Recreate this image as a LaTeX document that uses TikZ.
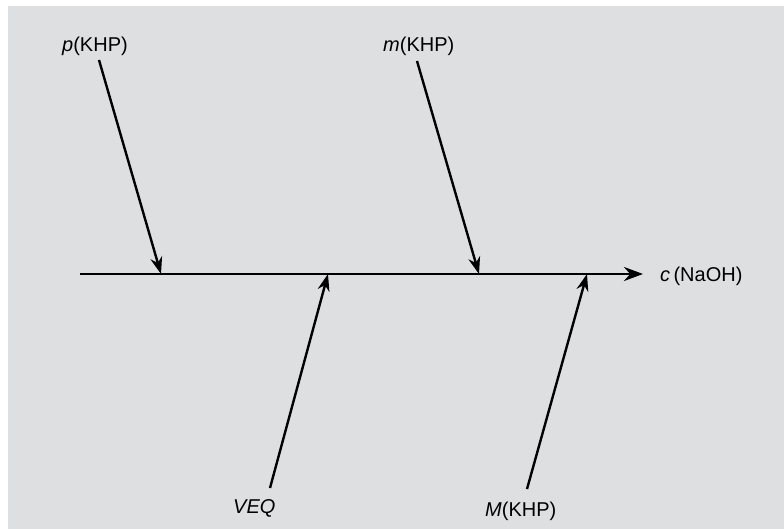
\documentclass[tikz,border=0pt]{standalone}
\usepackage{fontspec}
\setmainfont{Liberation Sans}
\usetikzlibrary{arrows.meta}

\definecolor{panelgray}{HTML}{DEDFE1}

\begin{document}
\begin{tikzpicture}[x=1pt,y=-1pt,
  every node/.style={inner sep=0pt,anchor=base west,font=\fontsize{20}{24}\selectfont},
  cause/.style={line width=2.4pt,-{Stealth[length=17pt,width=12pt]}},
  effect/.style={line width=2.8pt,-{Stealth[length=19pt,width=14pt]}}]
\fill[white] (0,0) rectangle (784,529);
\fill[panelgray] (8,6) rectangle (784,529);
\useasboundingbox (0,0) rectangle (784,529);

% labels
\node (pK) at (62,52) {\textit{p}(KHP)};
\node (mK) at (383,52) {\textit{m}(KHP)};
\node (veq) at (233,513) {\textit{VEQ}};
\node (MK) at (485,516) {\textit{M}(KHP)};
\node (cN) at (660,282) {\textit{c}\,(NaOH)};

% main line
\coordinate (start) at (80,274);
\coordinate (end) at (643,274);
\draw[effect] (start) -- (end);

% tails and heads of the causes
\coordinate (pT) at (99,60);   \coordinate (pH) at (161,274);
\coordinate (mT) at (417,61);  \coordinate (mH) at (479,274);
\coordinate (vT) at (270,488); \coordinate (vH) at (328,274);
\coordinate (MT) at (527,489); \coordinate (MH) at (587,274);
\foreach \n in {p,m,v,M}
  \draw[cause] (\n T) -- (\n H);
\end{tikzpicture}
\end{document}
